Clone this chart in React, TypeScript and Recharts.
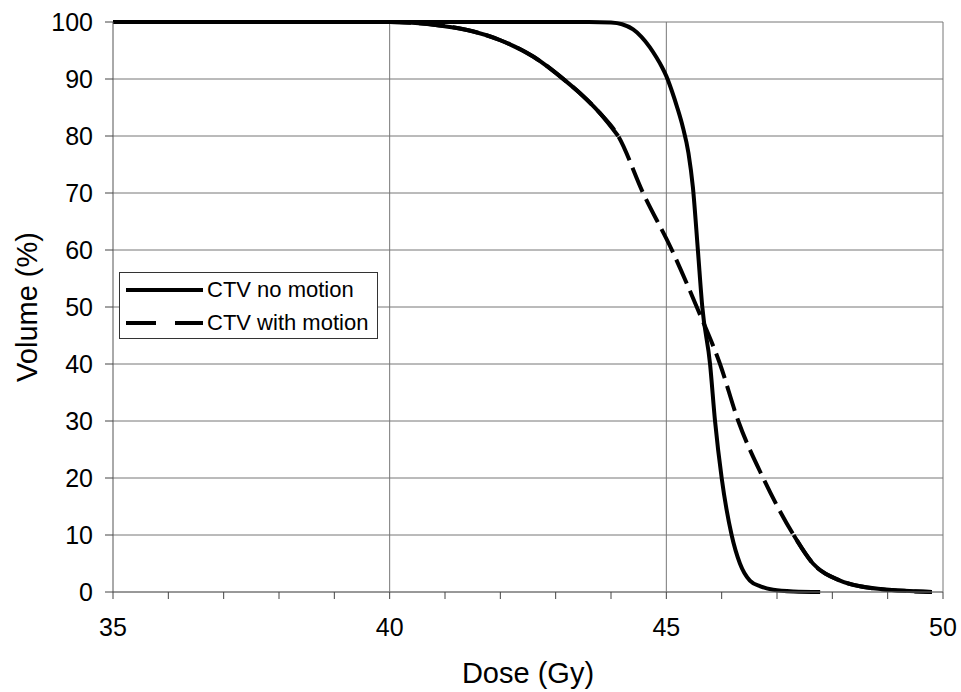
import { LineChart, Line, XAxis, YAxis, CartesianGrid, ReferenceLine, Label } from "recharts";

// CTV no motion (solid)
const noMotionDose = [35, 43.6, 44.0, 44.2, 44.4, 44.55, 44.7, 44.82, 44.92, 45.0, 45.1, 45.2, 45.3, 45.4, 45.48, 45.57, 45.65, 45.79, 45.88, 46.0, 46.18, 46.33, 46.51, 46.7, 46.93, 47.3, 47.78];
const noMotionVol = [100, 100, 99.9, 99.6, 98.7, 97.4, 95.6, 93.8, 92.1, 90.5, 87.9, 84.9, 81.5, 77, 71, 60, 50, 40, 30, 20, 10, 5, 2, 1, 0.4, 0.1, 0];

// CTV with motion (dashed)
const motionDose = [35, 40, 40.4, 40.9, 41.4, 42.0, 42.6, 43.2, 43.44, 43.8, 44.13, 44.58, 45.1, 45.55, 45.97, 46.3, 46.75, 47.3, 47.65, 48.14, 48.5, 48.9, 49.3, 49.8];
const motionVol = [100, 100, 99.85, 99.4, 98.6, 96.8, 93.9, 89.5, 87.5, 84, 80, 70, 60, 50, 40, 30, 20, 10, 5, 2, 1, 0.5, 0.2, 0];

const doseTicks = [35, 36, 37, 38, 39, 40, 41, 42, 43, 44, 45, 46, 47, 48, 49, 50];
const volumeTicks = [0, 10, 20, 30, 40, 50, 60, 70, 80, 90, 100];
const gridDoses = [40, 45, 50];

const noMotionData = noMotionDose.map((d, i) => ({ dose: d, vol: noMotionVol[i] }));
const motionData = motionDose.map((d, i) => ({ dose: d, vol: motionVol[i] }));
// where the original's points are dense the dashed curve reads as a continuous line
const motionDense = motionData.map((p) => ({
  dose: p.dose,
  vol: p.dose <= 44.13 || p.dose >= 47.3 ? p.vol : null,
}));

const FONT = "'Liberation Sans', Arial, sans-serif";

function DoseTick(props: any) {
  const { x, y, payload } = props;
  if (payload.value % 5 !== 0) return null;
  return (
    <text x={x} y={y + 35} textAnchor="middle" fontSize={25} fill="#000" fontFamily={FONT}>
      {payload.value}
    </text>
  );
}

function VolTick(props: any) {
  const { x, y, payload } = props;
  return (
    <text x={x - 10} y={y + 9} textAnchor="end" fontSize={25} fill="#000" fontFamily={FONT}>
      {payload.value}
    </text>
  );
}

export default function App() {
  return (
    <div style={{ position: "absolute", left: 0, top: 0, width: 961, height: 692, background: "#fff" }}>
      <LineChart width={961} height={692} margin={{ top: 22, right: 18, bottom: 0, left: 0 }}>
        <CartesianGrid vertical={false} stroke="#777" strokeWidth={1} />
        {gridDoses.map((d) => (
          <ReferenceLine key={d} x={d} stroke="#777" strokeWidth={1} />
        ))}
        <XAxis
          type="number"
          dataKey="dose"
          domain={[35, 50]}
          ticks={doseTicks}
          allowDataOverflow
          height={100}
          tickSize={7}
          stroke="#777"
          tickLine={{ stroke: "#444" }}
          tick={<DoseTick />}
          interval={0}
        >
          <Label
            content={() => (
              <text x={528} y={683} textAnchor="middle" fontSize={29} fill="#000" fontFamily={FONT}>
                Dose (Gy)
              </text>
            )}
          />
        </XAxis>
        <YAxis
          type="number"
          domain={[0, 100]}
          ticks={volumeTicks}
          width={113}
          tickSize={8}
          stroke="#555"
          tickLine={{ stroke: "#444" }}
          tick={<VolTick />}
          interval={0}
        >
          <Label
            content={() => (
              <text
                x={37}
                y={307}
                textAnchor="middle"
                fontSize={29}
                fill="#000"
                fontFamily={FONT}
                transform="rotate(-90 37 307)"
              >
                Volume (%)
              </text>
            )}
          />
        </YAxis>
        <Line
          data={motionData}
          dataKey="vol"
          type="monotone"
          stroke="#000"
          strokeWidth={4}
          strokeDasharray="26 8"
          dot={false}
          isAnimationActive={false}
        />
        <Line
          data={motionDense}
          dataKey="vol"
          type="monotone"
          stroke="#000"
          strokeWidth={4}
          dot={false}
          isAnimationActive={false}
        />
        <Line
          data={noMotionData}
          dataKey="vol"
          type="monotone"
          stroke="#000"
          strokeWidth={4}
          dot={false}
          isAnimationActive={false}
        />
      </LineChart>
      <div
        style={{
          position: "absolute",
          left: 119,
          top: 272,
          width: 257,
          height: 65,
          border: "1px solid #333",
          background: "#fff",
          fontFamily: FONT,
          fontSize: 22,
          color: "#000",
        }}
      >
        <div style={{ position: "absolute", left: 6, top: 15, width: 77, height: 4, background: "#000" }} />
        <div style={{ position: "absolute", left: 87, top: 5, lineHeight: "24px" }}>CTV no motion</div>
        <div style={{ position: "absolute", left: 6, top: 48, width: 30, height: 4, background: "#000" }} />
        <div style={{ position: "absolute", left: 55, top: 48, width: 28, height: 4, background: "#000" }} />
        <div style={{ position: "absolute", left: 87, top: 38, lineHeight: "24px" }}>CTV with motion</div>
      </div>
    </div>
  );
}
